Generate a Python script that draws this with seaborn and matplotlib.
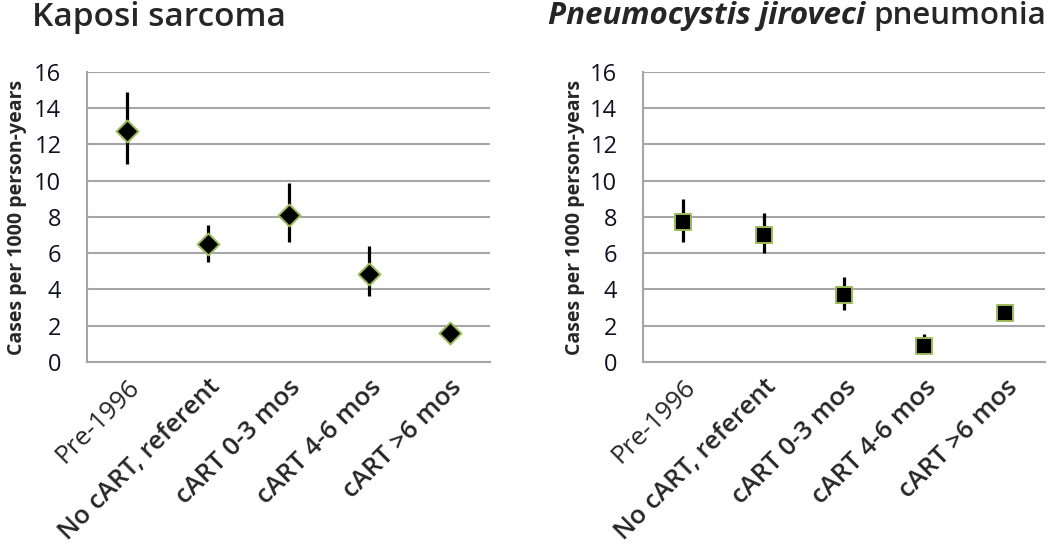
import numpy as np
import pandas as pd
import seaborn as sns
import matplotlib.pyplot as plt

# categories and rates (cases per 1000 person-years)
categories = ["Pre-1996", "No cART, referent", "cART 0-3 mos", "cART 4-6 mos", "cART >6 mos"]

kaposi_rate = [12.75, 6.5, 8.1, 4.85, 1.6]
kaposi_low = [10.9, 5.5, 6.6, 3.65, 1.2]
kaposi_high = [14.9, 7.55, 9.9, 6.4, 2.0]

pcp_rate = [7.7, 7.0, 3.7, 0.87, 2.73]
pcp_low = [6.6, 6.0, 2.85, 0.5, 2.35]
pcp_high = [9.0, 8.2, 4.7, 1.55, 3.1]

sns.set_style("white")
plt.rcParams["font.family"] = ["Open Sans", "DejaVu Sans"]

GRID = "#a6a6a6"
EDGE = "#9bbb59"

fig = plt.figure(figsize=(10.5, 5.52), dpi=100)
ax1 = fig.add_axes([0.0829, 0.3442, 0.3838, 0.5254])
ax2 = fig.add_axes([0.6124, 0.3442, 0.3829, 0.5254])


def panel(ax, rate, low, high, marker, size, label_x):
    df = pd.DataFrame({"cat": categories, "rate": rate})
    ax.vlines(np.arange(len(categories)), low, high, color="black", lw=2.3, zorder=2)
    sns.scatterplot(data=df, x="cat", y="rate", marker=marker, s=size, color="black",
                    edgecolor=EDGE, linewidth=1.4, ax=ax, zorder=3, legend=False)
    ax.set_xlim(-0.5, len(categories) - 0.5)
    ax.set_ylim(0, 16)
    ax.set_yticks(np.arange(0, 17, 2))
    ax.yaxis.grid(True, color=GRID, lw=1.5)
    ax.set_axisbelow(True)
    for s in ["top", "right"]:
        ax.spines[s].set_visible(False)
    for s in ["left", "bottom"]:
        ax.spines[s].set_color(GRID)
        ax.spines[s].set_linewidth(1.5)
    ax.tick_params(axis="y", length=6.5, width=1.5, color=GRID, pad=12, labelsize=17, labelcolor="#111122")
    ax.set_xticks(np.arange(len(categories)))
    ax.set_xticklabels(categories, rotation=45, ha="right", rotation_mode="anchor", fontsize=18.5)
    for i, t in enumerate(ax.get_xticklabels()):
        t.set_fontweight("normal" if i == 0 else "semibold")
    ax.tick_params(axis="x", length=0, pad=9)
    ax.set_xticks(np.arange(-0.5, len(categories), 1), minor=True)
    ax.tick_params(axis="x", which="minor", length=6, width=1.5, color=GRID, direction="out")
    ax.set_xlabel("")
    ax.set_ylabel("Cases per 1000 person-years", fontsize=14, fontweight="bold")
    ax.yaxis.set_label_coords(label_x, 0.5)


panel(ax1, kaposi_rate, kaposi_low, kaposi_high, "D", 125, -0.149)
panel(ax2, pcp_rate, pcp_low, pcp_high, "s", 140, -0.144)

fig.text(32 / 1050, 1 - 1 / 552, "Kaposi sarcoma", fontsize=24, va="top", ha="left",
         fontweight="semibold")
t2 = fig.text(1046 / 1050, 1 - 1 / 552, "pneumonia", fontsize=22.5, va="top", ha="right",
              fontweight="semibold")
fig.canvas.draw()
bb = t2.get_window_extent()
fig.text((bb.x0 - 8) / 1050, 1 - 1 / 552, "Pneumocystis jiroveci", fontsize=22.5, va="top",
         ha="right", fontstyle="italic", fontweight="bold")

fig.savefig("out.png", dpi=100)
